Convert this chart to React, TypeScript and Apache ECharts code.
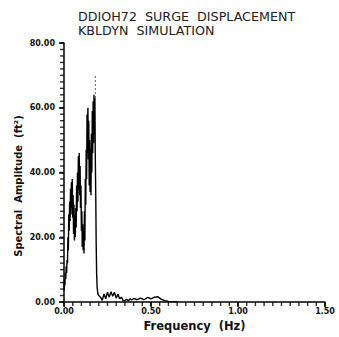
import React, { useEffect, useRef } from "react";
import * as echarts from "echarts";

const titleLines = ["DDIOH72  SURGE  DISPLACEMENT", "KBLDYN  SIMULATION"];
const xAxisName = "Frequency  (Hz)";
const yAxisName = "Spectral  Amplitude  (ft²)";

// frequency (Hz)
const freqs = [
  0.0, 0.0025, 0.005, 0.0075, 0.01, 0.0125, 0.015, 0.0175, 0.02, 0.0225,
  0.025, 0.0275, 0.03, 0.0325, 0.035, 0.0375, 0.04, 0.0425, 0.045, 0.0475,
  0.05, 0.0525, 0.055, 0.0575, 0.06, 0.0625, 0.065, 0.0675, 0.07, 0.0725,
  0.075, 0.0775, 0.08, 0.0825, 0.085, 0.0875, 0.09, 0.0925, 0.095, 0.0975,
  0.1, 0.1025, 0.105, 0.1075, 0.11, 0.1125, 0.115, 0.1175, 0.12, 0.1225,
  0.125, 0.1275, 0.13, 0.1325, 0.135, 0.1375, 0.14, 0.1425, 0.145, 0.1475,
  0.15, 0.1525, 0.155, 0.1575, 0.16, 0.1625, 0.165, 0.1675, 0.17, 0.1725,
  0.175, 0.1775, 0.18, 0.1825, 0.185, 0.1875, 0.19, 0.1925, 0.195, 0.2,
  0.21, 0.22, 0.23, 0.24, 0.25, 0.26, 0.27, 0.28, 0.29, 0.3,
  0.31, 0.32, 0.33, 0.34, 0.35, 0.36, 0.37, 0.38, 0.39, 0.4,
  0.42, 0.44, 0.46, 0.48, 0.5, 0.52, 0.54, 0.56, 0.58, 0.6,
  0.62, 0.65
];

// spectral amplitude (ft²)
const amps = [
  3.5, 7, 5, 9, 7, 11, 9, 13, 12, 20,
  16, 27, 22, 31, 25, 35, 27, 37, 29, 38,
  26, 33, 21, 30, 19, 27, 20, 29, 23, 36,
  28, 40, 31, 45, 35, 46, 33, 42, 29, 36,
  22, 28, 17, 24, 16, 22, 15, 28, 19, 38,
  30, 47, 38, 58, 46, 60, 44, 56, 36, 50,
  34, 47, 33, 52, 40, 59, 46, 62, 49, 64,
  52, 63, 44, 33, 18, 9, 5, 3.5, 2.5, 2,
  1.5, 0.5, 2.5, 1, 3, 1.5, 3.2, 1.8, 3, 1.2,
  2.4, 1, 1.5, 0.4, 0.5, 0.8, 0.4, 1, 0.6, 1.1,
  0.7, 1.2, 0.7, 1.4, 1, 1.5, 1.6, 0.8, 0.4, 0.2,
  0.1, 0
];

// dashed spike above the highest peak
const spikeFreq = [0.18, 0.18];
const spikeAmp = [63, 70];

const xMajor = 0.5;
const xMinor = 0.05;
const xMax = 1.5;
const yMajor = 20;
const yMinor = 2;
const yMax = 80;

export default function App() {
  const ref = useRef<HTMLDivElement>(null);
  useEffect(() => {
    if (!ref.current) return;
    document.body.style.margin = "0";
    document.documentElement.style.overflow = "hidden";
    document.body.style.overflow = "hidden";
    const chart = echarts.init(ref.current, undefined, { renderer: "svg" });
    const font = "'DejaVu Sans', sans-serif";

    const xTickVals: number[] = [];
    for (let i = 0; i <= Math.round(xMax / xMinor); i++) xTickVals.push(+(i * xMinor).toFixed(3));
    const yTickVals: number[] = [];
    for (let i = 0; i <= Math.round(yMax / yMinor); i++) yTickVals.push(i * yMinor);

    chart.setOption({
      animation: false,
      backgroundColor: "#ffffff",
      grid: { left: 64, right: 14, top: 43, bottom: 34 },
      graphic: [
        {
          type: "text",
          left: 78,
          top: 9,
          style: {
            text: titleLines.join("\n"),
            font: `12.7px ${font}`,
            fill: "#222",
            lineHeight: 14,
          },
        },
        {
          type: "text",
          x: 18,
          y: 186,
          rotation: Math.PI / 2,
          style: {
            text: yAxisName,
            font: `bold 10px ${font}`,
            fill: "#111",
            align: "center",
            verticalAlign: "middle",
          },
        },
      ],
      xAxis: {
        type: "value",
        min: 0,
        max: xMax,
        interval: xMajor,
        name: xAxisName,
        nameLocation: "middle",
        nameGap: 18,
        nameTextStyle: { fontFamily: font, fontSize: 11.5, fontWeight: "bold", color: "#111" },
        axisLine: { onZero: false, lineStyle: { color: "#000", width: 1.5 } },
        axisTick: { show: true, length: 5, lineStyle: { color: "#000", width: 1.5 } },
        axisLabel: {
          formatter: (v: number) => v.toFixed(2),
          fontFamily: font,
          fontSize: 8,
          fontWeight: "bold",
          color: "#111",
          margin: 5,
        },
        splitLine: { show: false },
      },
      yAxis: {
        type: "value",
        min: 0,
        max: yMax,
        interval: yMajor,
        axisLine: { show: true, onZero: false, lineStyle: { color: "#000", width: 1.5 } },
        axisTick: { show: true, length: 5, lineStyle: { color: "#000", width: 1.5 } },
        axisLabel: {
          formatter: (v: number) => v.toFixed(2),
          fontFamily: font,
          fontSize: 8,
          fontWeight: "bold",
          color: "#111",
          margin: 9,
        },
        splitLine: { show: false },
      },
      series: [
        {
          type: "line",
          data: freqs.map((f, i) => [f, amps[i]]),
          showSymbol: false,
          symbol: "none",
          lineStyle: { color: "#000", width: 1.4 },
        },
        {
          type: "line",
          data: spikeFreq.map((f, i) => [f, spikeAmp[i]]),
          showSymbol: false,
          symbol: "none",
          lineStyle: { color: "#333", width: 0.8, type: [2, 2] },
        },
        {
          type: "scatter",
          clip: false,
          silent: true,
          symbol: "rect",
          symbolSize: [1.4, 4],
          symbolOffset: [0, 2],
          itemStyle: { color: "#000" },
          data: xTickVals.map((v) => [v, 0]),
        },
        {
          type: "scatter",
          clip: false,
          silent: true,
          symbol: "rect",
          symbolSize: [4, 1.4],
          symbolOffset: [-2, 0],
          itemStyle: { color: "#000" },
          data: yTickVals.map((v) => [0, v]),
        },
      ],
    });
    return () => chart.dispose();
  }, []);
  return <div ref={ref} style={{ width: 339, height: 337 }} />;
}
